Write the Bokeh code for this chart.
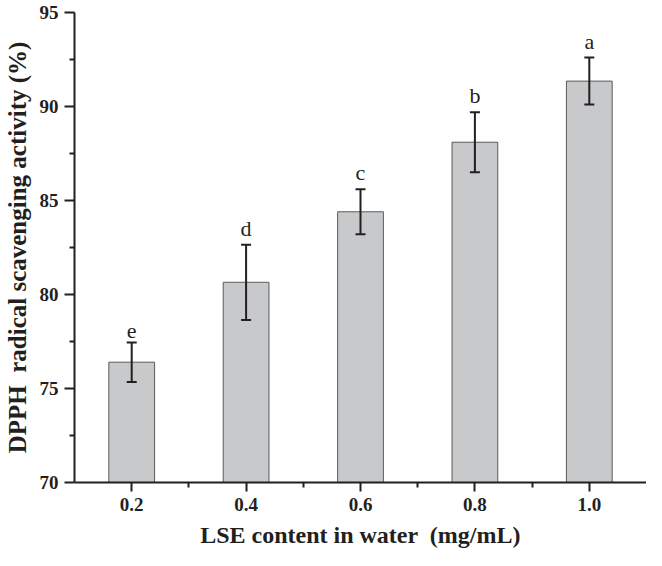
from bokeh.plotting import figure
from bokeh.models import FixedTicker, ColumnDataSource, Whisker, TeeHead, Range1d
from bokeh.core.properties import value
from bokeh.embed import file_html
from bokeh.resources import INLINE

# Data
concentrations = [0.2, 0.4, 0.6, 0.8, 1.0]
tick_labels = ["0.2", "0.4", "0.6", "0.8", "1.0"]
activity = [76.4, 80.65, 84.4, 88.1, 91.35]
errors = [1.05, 2.0, 1.2, 1.6, 1.25]
letters = ["e", "d", "c", "b", "a"]
y_ticks = [70, 75, 80, 85, 90, 95]
y_minor = [72.5, 77.5, 82.5, 87.5, 92.5]
x_minor = [0.3, 0.5, 0.7, 0.9]

upper = [a + e for a, e in zip(activity, errors)]
lower = [a - e for a, e in zip(activity, errors)]

src = ColumnDataSource(dict(x=concentrations, top=activity, upper=upper,
                            lower=lower, letter=letters))

INK = "#231f20"
FONT = "Liberation Serif"

p = figure(width=646, height=550, output_backend="svg", toolbar_location=None,
           x_range=Range1d(0.1, 1.1), y_range=Range1d(70, 95),
           min_border_left=69, min_border_right=0, min_border_top=12,
           min_border_bottom=10)
p.outline_line_color = None
p.xgrid.visible = False
p.ygrid.visible = False
p.background_fill_color = "white"
p.border_fill_color = "white"

p.vbar(x="x", top="top", bottom=70, width=0.08, source=src,
       fill_color="#c8c9cb", line_color="#5a5a5a", line_width=1)

w = Whisker(base="x", upper="upper", lower="lower", source=src,
            line_color=INK, line_width=2, level="overlay",
            upper_head=TeeHead(size=10, line_color=INK, line_width=2),
            lower_head=TeeHead(size=10, line_color=INK, line_width=2))
p.add_layout(w)

p.text(x="x", y="upper", text="letter", source=src, text_align="center",
       text_baseline="bottom", y_offset=-4, text_font=value(FONT),
       text_font_size="22px", text_color=INK)

# X axis
xa = p.xaxis[0]
xa.ticker = FixedTicker(ticks=concentrations, minor_ticks=x_minor)
xa.major_label_overrides = {c: l for c, l in zip(concentrations, tick_labels)}
xa.axis_label = "LSE content in water \u00a0(mg/mL)"
xa.axis_label_text_font = FONT
xa.axis_label_text_font_style = "bold"
xa.axis_label_text_font_size = "24px"
xa.axis_label_text_color = INK
xa.axis_label_standoff = 8
xa.major_label_text_font = FONT
xa.major_label_text_font_style = "bold"
xa.major_label_text_font_size = "19px"
xa.major_label_text_color = INK
xa.major_label_standoff = 6
xa.axis_line_width = 2
xa.axis_line_color = INK
xa.major_tick_line_color = INK
xa.major_tick_line_width = 2
xa.major_tick_out = 9
xa.major_tick_in = 0
xa.minor_tick_line_color = INK
xa.minor_tick_line_width = 2
xa.minor_tick_out = 5
xa.minor_tick_in = 0

# Y axis
ya = p.yaxis[0]
ya.ticker = FixedTicker(ticks=y_ticks, minor_ticks=y_minor)
ya.axis_label = "DPPH \u00a0radical scavenging activity (%)"
ya.axis_label_text_font = FONT
ya.axis_label_text_font_style = "bold"
ya.axis_label_text_font_size = "25px"
ya.axis_label_text_color = INK
ya.axis_label_standoff = 6
ya.major_label_text_font = FONT
ya.major_label_text_font_style = "bold"
ya.major_label_text_font_size = "19px"
ya.major_label_text_color = INK
ya.major_label_standoff = 6
ya.axis_line_width = 2
ya.axis_line_color = INK
ya.major_tick_line_color = INK
ya.major_tick_line_width = 2
ya.major_tick_out = 10
ya.major_tick_in = 0
ya.minor_tick_line_color = INK
ya.minor_tick_line_width = 2
ya.minor_tick_out = 5
ya.minor_tick_in = 0

open("out.html", "w").write(file_html(p, INLINE))
